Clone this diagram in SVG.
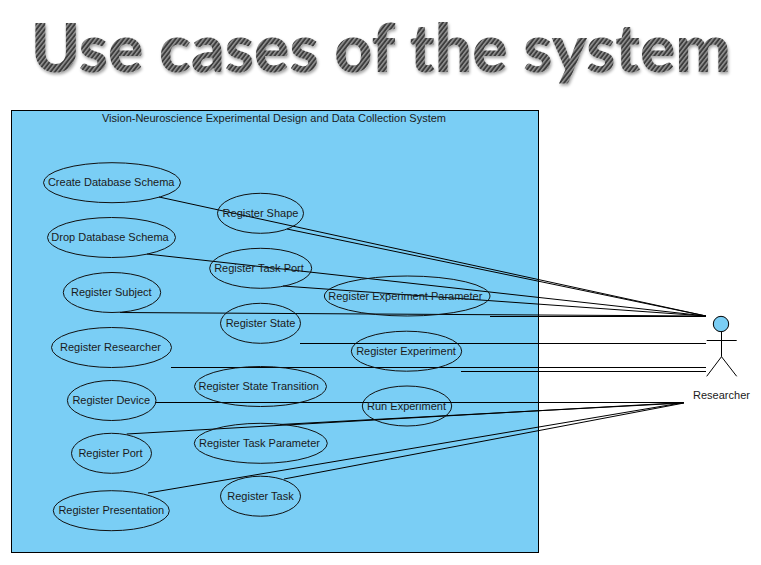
<svg xmlns="http://www.w3.org/2000/svg" width="761" height="565" viewBox="0 0 761 565">
<style>
.uc ellipse{fill:none;stroke:#111;stroke-width:1}
text{font-family:"Liberation Sans",Arial,sans-serif;font-size:11px;fill:#1a1a1a}
.uc text,.c{text-anchor:middle}
#connectors line{stroke:#000;stroke-width:1}
#researcher line,#researcher circle{stroke:#000;stroke-width:1}
</style>
<defs>
<pattern id="stripes" width="3.400" height="3.400" patternUnits="userSpaceOnUse" patternTransform="rotate(-52)">
<rect width="3.400" height="3.400" fill="#3c3c3c"/><rect width="3.400" height="1.500" fill="#949494"/>
</pattern>
<filter id="shadow" x="-5%" y="-10%" width="110%" height="130%">
<feDropShadow dx="1" dy="2" stdDeviation="1.500" flood-color="#000" flood-opacity=".35"/>
</filter>
</defs>
<rect width="761" height="565" fill="#fff"/>
<text x="381" y="71.500" class="c" style="font-family:Lato,sans-serif;font-weight:900;font-size:66px;fill:url(#stripes)" filter="url(#shadow)">Use cases of the system</text>
<g id="system">
<rect x="11.500" y="110.500" width="527" height="442" fill="#7ACEF5" stroke="#000"/>
<text x="274" y="122" class="c">Vision-Neuroscience Experimental Design and Data Collection System</text>
</g>
<g id="connectors">
<line x1="159" y1="197" x2="706" y2="316"/>
<line x1="287" y1="229" x2="706" y2="316"/>
<line x1="147" y1="254" x2="706" y2="316"/>
<line x1="283" y1="286" x2="706" y2="316"/>
<line x1="120" y1="312.500" x2="706" y2="316"/>
<line x1="490" y1="316.500" x2="706" y2="316.500"/>
<line x1="300" y1="343.500" x2="706" y2="343.500"/>
<line x1="171" y1="367.500" x2="706" y2="367.500"/>
<line x1="461" y1="371.500" x2="706" y2="371.500"/>
<line x1="155" y1="402.500" x2="684" y2="402.500"/>
<line x1="126.700" y1="434" x2="684" y2="402.500"/>
<line x1="280" y1="424.500" x2="684" y2="403"/>
<line x1="148" y1="493" x2="684" y2="402.500"/>
<line x1="284" y1="479" x2="684" y2="403"/>
</g>
<g id="create-database-schema" class="uc"><ellipse cx="112" cy="182.700" rx="68.500" ry="20"/><text x="111.200" y="186">Create Database Schema</text></g>
<g id="drop-database-schema" class="uc"><ellipse cx="111.500" cy="237.500" rx="64" ry="20"/><text x="110" y="241">Drop Database Schema</text></g>
<g id="register-subject" class="uc"><ellipse cx="112" cy="292.500" rx="48.700" ry="20"/><text x="111.300" y="296">Register Subject</text></g>
<g id="register-researcher" class="uc"><ellipse cx="111.500" cy="347.500" rx="60" ry="20"/><text x="110.500" y="351">Register Researcher</text></g>
<g id="register-device" class="uc"><ellipse cx="111.700" cy="400.500" rx="44.300" ry="20"/><text x="111.200" y="404">Register Device</text></g>
<g id="register-port" class="uc"><ellipse cx="111.500" cy="453.300" rx="40" ry="20"/><text x="110.500" y="457">Register Port</text></g>
<g id="register-presentation" class="uc"><ellipse cx="111.300" cy="510.700" rx="58" ry="20"/><text x="111.300" y="514">Register Presentation</text></g>
<g id="register-shape" class="uc"><ellipse cx="260.500" cy="213.300" rx="43" ry="20"/><text x="260.500" y="217">Register Shape</text></g>
<g id="register-task-port" class="uc"><ellipse cx="260.700" cy="268.300" rx="51" ry="20"/><text x="259" y="272">Register Task Port</text></g>
<g id="register-state" class="uc"><ellipse cx="260.500" cy="323.300" rx="40" ry="20"/><text x="260.500" y="327">Register State</text></g>
<g id="register-state-transition" class="uc"><ellipse cx="260.500" cy="386.500" rx="66" ry="20"/><text x="258.700" y="390">Register State Transition</text></g>
<g id="register-task-parameter" class="uc"><ellipse cx="260.800" cy="443.300" rx="66.500" ry="20"/><text x="259.500" y="447">Register Task Parameter</text></g>
<g id="register-task" class="uc"><ellipse cx="260.500" cy="496.200" rx="40" ry="20"/><text x="260.500" y="500">Register Task</text></g>
<g id="register-experiment-parameter" class="uc"><ellipse cx="407.200" cy="296" rx="82.800" ry="20"/><text x="405.300" y="300">Register Experiment Parameter</text></g>
<g id="register-experiment" class="uc"><ellipse cx="406.500" cy="351.200" rx="55.200" ry="20"/><text x="406" y="355">Register Experiment</text></g>
<g id="run-experiment" class="uc"><ellipse cx="407" cy="406" rx="44.700" ry="20"/><text x="406.500" y="410">Run Experiment</text></g>
<g id="researcher">
<circle cx="721" cy="324" r="7.700" fill="#7ACEF5"/>
<line x1="721.500" y1="331.700" x2="721.500" y2="356.700"/>
<line x1="706.700" y1="340.500" x2="736.700" y2="340.500"/>
<line x1="721.500" y1="356.700" x2="706.700" y2="376.300"/>
<line x1="721.500" y1="356.700" x2="736.700" y2="376.300"/>
<text x="721.500" y="399" class="c">Researcher</text>
</g>
</svg>
